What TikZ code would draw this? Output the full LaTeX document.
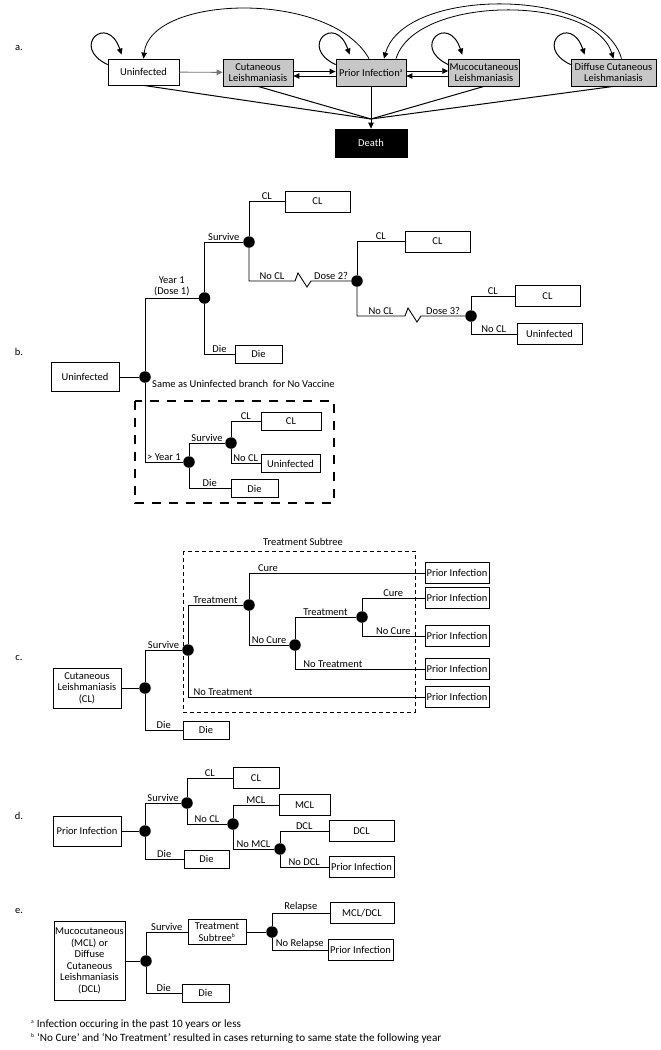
\documentclass[tikz,border=0pt]{standalone}
\usepackage{fontspec}
\setmainfont{Carlito}
\usetikzlibrary{arrows.meta}
\newcommand{\fnmk}[1]{\textsuperscript{\fontsize{5.5}{6}\selectfont #1}}

\begin{document}
\begin{tikzpicture}[x=1pt,y=-1pt,font=\fontsize{10.5}{11.5}\selectfont,
    box/.style={draw,line width=0.9pt,inner sep=1pt,align=center,minimum width=65pt,minimum height=21pt},
    die/.style={box,minimum width=47pt,minimum height=18pt},
    state/.style={box,fill=black!22,minimum width=70pt,minimum height=27pt,line width=0.8pt},
    dot/.style={circle,fill=black,inner sep=0pt,minimum size=11.5pt},
    lbl/.style={above,inner sep=1.2pt,pos=0.75,align=center},
    arr/.style={line width=0.9pt,-{Triangle[length=6pt,width=5.5pt]}},
    br/.style={line width=0.9pt}]
  \useasboundingbox (0,0) rectangle (661,1050);

  % a. Markov states
  \node (tagA) at (19,48) {a.};
  \node[state,fill=white,minimum width=71pt,minimum height=26pt] (un) at (143.5,72) {Uninfected};
  \node[state] (cl) at (258,72.5) {Cutaneous\\Leishmaniasis};
  \node[state] (pr) at (371,72.5) {Prior Infection\fnmk{a}};
  \node[state] (mc) at (484,72.5) {Mucocutaneous\\Leishmaniasis};
  \node[state,minimum width=85pt] (dc) at (613.5,72.5) {Diffuse Cutaneous\\Leishmaniasis};
  \node[state,fill=black,text=white,minimum width=72pt,minimum height=28pt] (de) at (371,143) {Death};
  \foreach \n in {un,pr,mc,dc}
    \draw[arr,line width=1pt] ([yshift=-6pt]\n.north west) .. controls +(-38,-18) and +(-14,-42) .. ([xshift=14pt,yshift=4pt]\n.north west);
  \draw[arr,draw=black!55] (un) -- (cl);
  \draw[arr] ([yshift=1pt]cl.east) -- ([yshift=1pt]pr.west);
  \draw[arr] ([yshift=-3.5pt]pr.west) -- ([yshift=-3.5pt]cl.east);
  \draw[arr] ([yshift=1.5pt]pr.east) -- ([yshift=1.5pt]mc.west);
  \draw[arr] ([yshift=-3.5pt]mc.west) -- ([yshift=-3.5pt]pr.east);
  \draw[arr,line width=0.8pt] ([xshift=-2pt]pr.north) .. controls +(-39,-69) and +(7,-64) .. (un.north);
  \draw[arr,line width=0.8pt] ([xshift=8pt]dc.north) .. controls +(-20,-72) and +(20,-72) .. ([xshift=13pt]pr.north);
  \draw[arr,line width=0.8pt] ([xshift=25pt]pr.north) .. controls +(20,-64) and +(-20,-64) .. (dc.north);
  \coordinate (hub) at (371,119);
  \foreach \n in {un,cl,pr,mc,dc}
    \draw[line width=1pt] (\n.south) -- (hub);
  \draw[arr] (hub) -- (de);

  % b. vaccine tree
  \node (tagB) at (19,352) {b.};
  \node[box,minimum width=68pt,minimum height=29pt] (ub) at (85,377) {Uninfected};
  \node[dot] (b0) at (145,377) {};
  \node[dot] (b1) at (204.5,298) {};
  \node[dot] (b2) at (249,242) {};
  \node[dot] (b3) at (357,281) {};
  \node[dot] (b4) at (471,316) {};
  \node[dot] (b5) at (189,462) {};
  \node[dot] (b6) at (231,443) {};
  \node[box] (bcl1) at (317.5,201.5) {CL};
  \node[box] (bcl2) at (437.5,241.5) {CL};
  \node[box] (bcl3) at (547.5,296) {CL};
  \node[box] (bun3) at (549.5,334) {Uninfected};
  \node[die] (bdie1) at (258.5,354) {Die};
  \node[box,minimum width=60pt,minimum height=18pt] (bcl4) at (291,421.5) {CL};
  \node[box,minimum width=59pt,minimum height=18pt] (bun4) at (290.5,463.5) {Uninfected};
  \node[die] (bdie2) at (254.5,488.5) {Die};
  \coordinate (z1) at (295,281);
  \coordinate (z2) at (405,316);
  \draw[br] (ub) -- (b0);
  \draw[br] (b0) |- node[lbl]{Year 1\\(Dose 1)} (b1);
  \draw[br] (b1) |- node[lbl]{Survive} (b2);
  \draw[br] (b1) |- node[lbl]{Die} (bdie1);
  \draw[br] (b2) |- node[lbl]{CL} (bcl1);
  \draw[br] (b2) |- node[lbl]{No CL} (z1) -- ++(3,-8) -- ++(9,14) -- ++(4,-6) -- node[lbl,pos=0.5]{Dose 2?} (b3);
  \draw[br] (b3) |- node[lbl]{CL} (bcl2);
  \draw[br] (b3) |- node[lbl]{No CL} (z2) -- ++(3,-8) -- ++(9,14) -- ++(4,-6) -- node[lbl,pos=0.5]{Dose 3?} (b4);
  \draw[br] (b4) |- node[lbl]{CL} (bcl3);
  \draw[br] (b4) |- node[lbl]{No CL} (bun3);
  \node[anchor=west,inner sep=0pt] (same) at (152,384) {Same as Uninfected branch~ for No Vaccine};
  \draw[br] (b0) |- node[lbl]{> Year 1} (b5);
  \draw[br] (b5) |- node[lbl]{Survive} (b6);
  \draw[br] (b5) |- node[lbl]{Die} (bdie2);
  \draw[br] (b6) |- node[lbl]{CL} (bcl4);
  \draw[br] (b6) |- node[lbl]{No CL} (bun4);
  \draw[line width=1.1pt,dash pattern=on 9pt off 8pt] (135,401) rectangle (334,503);

  % c. cutaneous leishmaniasis
  \node (tagC) at (19,658) {c.};
  \node[box,minimum width=68pt,minimum height=40pt] (ccl) at (87,688) {Cutaneous\\Leishmaniasis\\(CL)};
  \node[dot] (c0) at (145,688) {};
  \node[dot] (c1) at (188,650) {};
  \node[dot] (c2) at (249,605) {};
  \node[dot] (c3) at (295,645) {};
  \node[dot] (c4) at (362,617) {};
  \node[die,minimum width=46pt] (cdie) at (206,730) {Die};
  \foreach \i/\y in {1/573,2/598,3/636,4/669,5/697}
    \node[box,minimum width=64pt] (cp\i) at (457,\y) {Prior Infection};
  \draw[br] (ccl) -- (c0);
  \draw[br] (c0) |- node[lbl]{Survive} (c1);
  \draw[br] (c0) |- node[lbl]{Die} (cdie);
  \draw[br] (c1) |- node[lbl]{Treatment} (c2);
  \draw[br] (c1) |- node[lbl,pos=0.574]{No Treatment} (cp5);
  \draw[br] (c2) |- node[lbl,pos=0.554]{Cure} (cp1);
  \draw[br] (c2) |- node[lbl]{No Cure} (c3);
  \draw[br] (c3) |- node[lbl]{Treatment} (c4);
  \draw[br] (c3) |- node[lbl,pos=0.646]{No Treatment} (cp4);
  \draw[br] (c4) |- node[lbl]{Cure} (cp2);
  \draw[br] (c4) |- node[lbl]{No Cure} (cp3);
  \draw[line width=0.9pt,dash pattern=on 4pt off 3pt] (183,551) rectangle (415,712);
  \node (subt) at (303,542) {Treatment Subtree};

  % d. prior infection
  \node (tagD) at (19,816) {d.};
  \node[box,minimum width=68pt,minimum height=30pt] (dpr) at (87,831) {Prior Infection};
  \node[dot] (d0) at (145,831) {};
  \node[dot] (d1) at (187,803) {};
  \node[dot] (d2) at (233,824) {};
  \node[dot] (d3) at (280,849) {};
  \node[die,minimum width=45pt] (ddie) at (206.5,859) {Die};
  \node[box,minimum width=46pt] (dcl) at (256,778) {CL};
  \node[box,minimum width=51pt] (dmcl) at (304.5,805) {MCL};
  \node[box] (ddcl) at (361.5,831) {DCL};
  \node[box] (dpr2) at (361.5,867) {Prior Infection};
  \draw[br] (dpr) -- (d0);
  \draw[br] (d0) |- node[lbl]{Survive} (d1);
  \draw[br] (d0) |- node[lbl]{Die} (ddie);
  \draw[br] (d1) |- node[lbl]{CL} (dcl);
  \draw[br] (d1) |- node[lbl]{No CL} (d2);
  \draw[br] (d2) |- node[lbl]{MCL} (dmcl);
  \draw[br] (d2) |- node[lbl]{No MCL} (d3);
  \draw[br] (d3) |- node[lbl]{DCL} (ddcl);
  \draw[br] (d3) |- node[lbl]{No DCL} (dpr2);

  % e. MCL / DCL
  \node (tagE) at (19,911) {e.};
  \node[box,minimum width=71pt,minimum height=79pt] (emd) at (89.5,961) {Mucocutaneous\\(MCL) or\\Diffuse\\Cutaneous\\Leishmaniasis\\(DCL)};
  \node[dot] (e0) at (146,961) {};
  \node[box,minimum width=58pt,minimum height=25pt] (ets) at (217,932) {Treatment\\Subtree\fnmk{b}};
  \node[dot] (e1) at (272,932) {};
  \node[box,minimum width=64pt] (erel) at (362,913) {MCL/DCL};
  \node[box] (epr) at (360.5,950) {Prior Infection};
  \node[die] (edie) at (205.5,993) {Die};
  \draw[br] (emd) -- (e0);
  \draw[br] (e0) |- node[lbl]{Survive} (ets);
  \draw[br] (e0) |- node[lbl]{Die} (edie);
  \draw[br] (ets) -- (e1);
  \draw[br] (e1) |- node[lbl]{Relapse} (erel);
  \draw[br] (e1) |- node[lbl]{No Relapse} (epr);

  % footnotes
  \node[anchor=west,inner sep=0pt,font=\fontsize{11.2}{12}\selectfont] (fna) at (31,1025) {\fnmk{a} Infection occuring in the past 10 years or less};
  \node[anchor=west,inner sep=0pt,font=\fontsize{11.2}{12}\selectfont] (fnb) at (31,1038) {\fnmk{b} ‘No Cure’ and ‘No Treatment’ resulted in cases returning to same state the following year};
\end{tikzpicture}
\end{document}
